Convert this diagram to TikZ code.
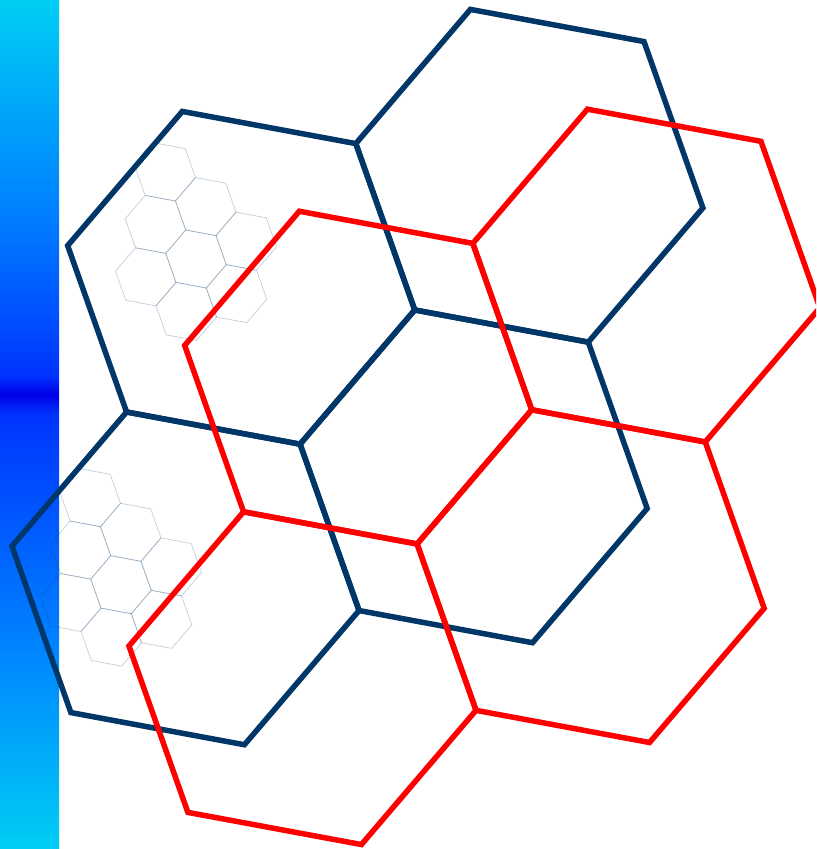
\documentclass[tikz,border=0pt]{standalone}
\definecolor{navyhex}{RGB}{0,54,104}
\definecolor{redhex}{RGB}{255,0,0}
\definecolor{barcyan}{RGB}{0,206,244}
\definecolor{barmid}{RGB}{0,128,255}
\definecolor{barblue}{RGB}{0,52,255}
\definecolor{bardark}{RGB}{0,0,232}
\pgfdeclareverticalshading{barshade}{100bp}{%
  color(0bp)=(barcyan); color(25bp)=(barcyan); color(37.5bp)=(barmid);
  color(50.6bp)=(barblue); color(51.75bp)=(bardark); color(52.9bp)=(barblue);
  color(62.5bp)=(barmid); color(75bp)=(barcyan); color(100bp)=(barcyan)}
\tikzset{
  bighex/.style={line width=0.11cm, line join=miter},
  navyline/.style={bighex, draw=navyhex},
  redline/.style={bighex, draw=redhex},
  smallhex/.style={draw=navyhex, line width=0.4pt, draw opacity=0.24},
}
\newcommand\hexshape[2]{%
  \draw[#1] (10.5:#2) -- (70.5:#2) -- (130.5:#2) -- (190.5:#2) -- (250.5:#2) -- (310.5:#2) -- cycle;}
\newcommand\hexcluster[2]{%
  \begin{scope}[shift={(#1,#2)}]
    \foreach \ang/\dist in {0/0, -19.5/53.3, 160.5/53.3, 40.5/53.3, 220.5/53.3, 100.5/53.3, 280.5/53.3, 250.5/92.3}{
      \begin{scope}[shift={(\ang:\dist)}]
        \hexshape{smallhex}{30.8}
      \end{scope}
    }
  \end{scope}}
\newcommand\bigcluster[3]{%
  \begin{scope}[shift={(#1,#2)}]
    \foreach \ang/\dist in {0/0, -19.5/305.7, 40.5/305.7, 100.5/305.7}{
      \begin{scope}[shift={(\ang:\dist)}]
        \hexshape{#3}{176.5}
      \end{scope}
    }
  \end{scope}}
\begin{document}
\begin{tikzpicture}[x=0.02cm,y=-0.02cm]
  \useasboundingbox (0,0) rectangle (816,849);
  \clip (0,0) rectangle (816,849);
  \fill[white] (0,0) rectangle (816,849);
  % gradient bar
  \shade[shading=barshade] (0,0) rectangle (59,849);
  % small hexagon clusters
  \hexcluster{196}{259}
  \hexcluster{121}{584.7}
  % navy hexagons
  \bigcluster{241.2}{277.8}{navyline}
  % red hexagons
  \bigcluster{358.2}{377.6}{redline}
\end{tikzpicture}
\end{document}
